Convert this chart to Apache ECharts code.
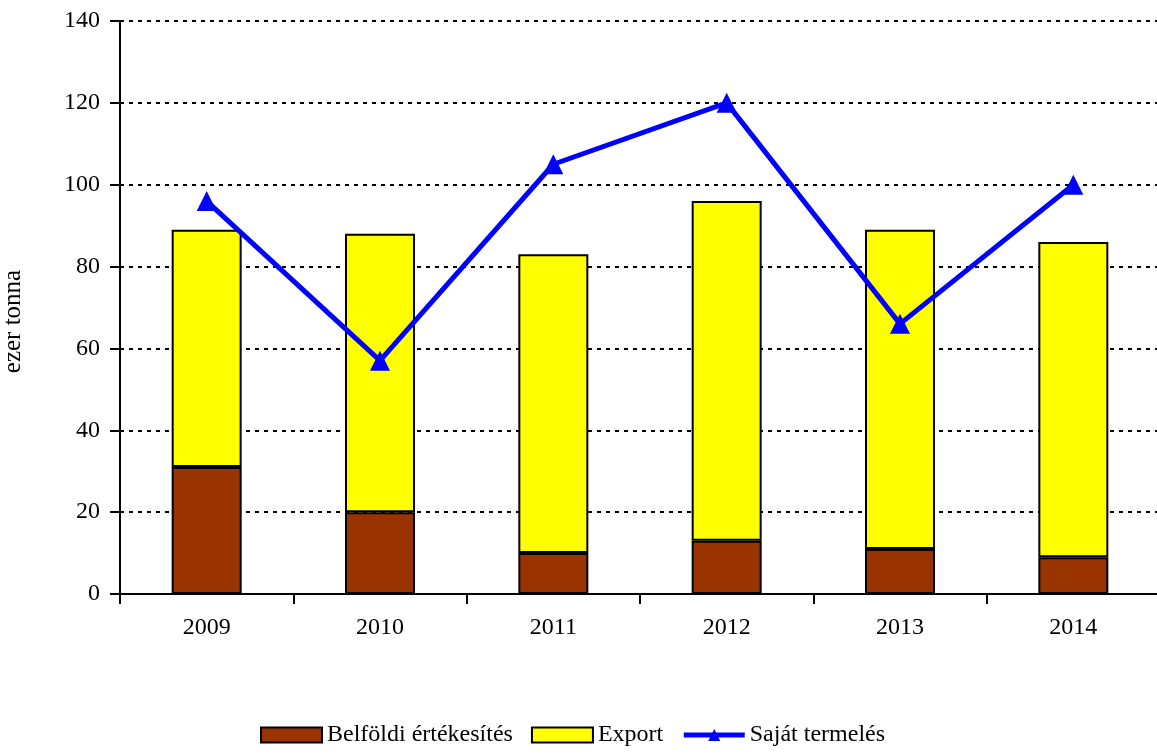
<!DOCTYPE html>
<html>
<head>
<meta charset="utf-8">
<title>ezer tonna</title>
<script src="https://cdn.jsdelivr.net/npm/echarts@6/dist/echarts.min.js"></script>
<style>
  html, body { margin: 0; padding: 0; background: #fff; }
  #main { width: 1157px; height: 756px; }
</style>
</head>
<body>
<div id="main"></div>
<script>
var years = ['2009', '2010', '2011', '2012', '2013', '2014'];
var belfoldi = [31, 20, 10, 13, 11, 9];
var exportVals = [58, 68, 73, 83, 78, 77];
var sajat = [96, 57, 105, 120, 66, 100];
var yTicks = [0, 20, 40, 60, 80, 100, 120, 140];

var font = 'Liberation Serif';
var chart = echarts.init(document.getElementById('main'));

var option = {
  animation: false,
  textStyle: { fontFamily: font },
  grid: { left: 120, top: 21, width: 1040, height: 573, outerBoundsMode: 'none', containLabel: false },
  legend: {
    bottom: 4,
    left: 255,
    itemWidth: 61,
    itemHeight: 15,
    itemGap: 18,
    textStyle: { fontFamily: font, fontSize: 24, color: '#000' },
    data: [
      { name: 'Belföldi értékesítés', icon: 'rect' },
      { name: 'Export', icon: 'rect' },
      { name: 'Saját termelés' }
    ]
  },
  xAxis: {
    type: 'category',
    data: years,
    axisLine: { lineStyle: { color: '#000', width: 2 } },
    axisTick: { show: true, length: 10, lineStyle: { color: '#000', width: 2 } },
    axisLabel: { fontFamily: font, fontSize: 24, color: '#000', margin: 22 },
    splitLine: { show: false }
  },
  yAxis: {
    type: 'value',
    min: yTicks[0],
    max: yTicks[yTicks.length - 1],
    interval: 20,
    name: 'ezer tonna',
    nameLocation: 'middle',
    nameGap: 94,
    nameTextStyle: { fontFamily: font, fontSize: 25, color: '#000', padding: [0, 28, 0, 0] },
    axisLine: { show: true, lineStyle: { color: '#000', width: 2 } },
    axisTick: { show: true, length: 10, lineStyle: { color: '#000', width: 2 } },
    axisLabel: { fontFamily: font, fontSize: 24, color: '#000', margin: 20 },
    splitLine: { show: true, lineStyle: { color: '#000', width: 2, type: [4, 5] } }
  },
  series: [
    {
      name: 'Belföldi értékesítés',
      type: 'bar',
      stack: 'total',
      barWidth: 70,
      data: belfoldi,
      itemStyle: { color: '#993300', borderColor: '#000', borderWidth: 2 }
    },
    {
      name: 'Export',
      type: 'bar',
      stack: 'total',
      barWidth: 70,
      data: exportVals,
      itemStyle: { color: '#ffff00', borderColor: '#000', borderWidth: 2 }
    },
    {
      name: 'Saját termelés',
      type: 'line',
      data: sajat,
      symbol: 'triangle',
      symbolSize: 20,
      lineStyle: { color: '#0000ff', width: 5 },
      itemStyle: { color: '#0000ff' },
      z: 5
    }
  ]
};
option.legend.data[2].lineStyle = { color: '#0000ff', width: 5 };
chart.setOption(option);
</script>
</body>
</html>
